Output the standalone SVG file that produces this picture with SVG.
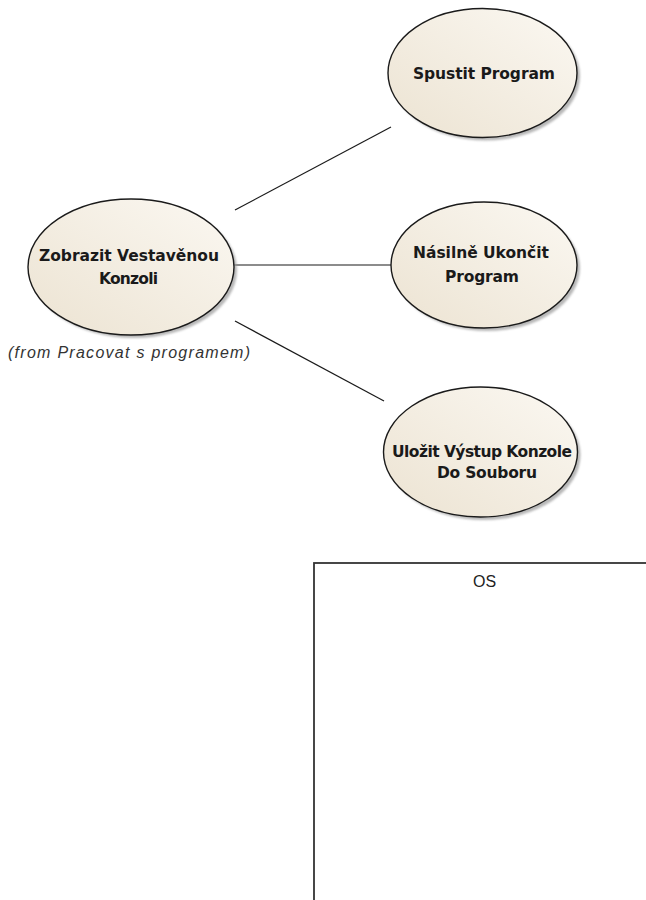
<svg xmlns="http://www.w3.org/2000/svg" width="646" height="900" viewBox="0 0 646 900">
  <defs>
    <linearGradient id="ucFill" x1="0" y1="1" x2="1" y2="0">
      <stop offset="0" stop-color="#ECE3D2"/>
      <stop offset="1" stop-color="#FBF8F2"/>
    </linearGradient>
    <filter id="blurShadow" x="-10%" y="-10%" width="130%" height="130%">
      <feGaussianBlur stdDeviation="1.2"/>
    </filter>
  </defs>
  <style>
    .shadow { fill: #9a9a9a; opacity: 0.7; filter: url(#blurShadow); }
    .uc { fill: url(#ucFill); stroke: #1a1a1a; stroke-width: 1.4; }
    .lbl { font-family: "DejaVu Sans", "Liberation Sans", sans-serif; font-weight: bold; font-size: 15.5px; fill: #1a1a1a; text-anchor: middle; }
    .note { font-family: "Liberation Sans", Arial, sans-serif; font-style: italic; font-size: 16px; fill: #333; }
    .conn line { stroke: #1a1a1a; stroke-width: 1.2; }
    .boundary { fill: #ffffff; stroke: #333; stroke-width: 1.8; }
    .title { font-family: "Liberation Sans", Arial, sans-serif; font-size: 16px; fill: #222; text-anchor: middle; }
  </style>
  <rect width="646" height="900" fill="#ffffff"/>

  <!-- system boundary -->
  <g id="os">
    <rect class="boundary" x="314" y="563" width="340" height="350"/>
    <text class="title" x="484.5" y="587">OS</text>
  </g>

  <!-- associations -->
  <g id="connectors" class="conn">
    <line x1="235" y1="210" x2="391" y2="127"/>
    <line x1="234" y1="265" x2="391" y2="265"/>
    <line x1="235" y1="321" x2="384" y2="401"/>
  </g>

  <g id="zobrazit">
    <ellipse class="shadow" cx="134" cy="270" rx="103" ry="68"/>
    <ellipse class="uc" cx="131" cy="267" rx="103" ry="68"/>
    <text class="lbl" x="129" y="261" textLength="180">Zobrazit Vestavěnou</text>
    <text class="lbl" x="128.5" y="284" textLength="59">Konzoli</text>
    <text class="note" x="8" y="358" textLength="242">(from Pracovat s programem)</text>
  </g>

  <g id="spustit">
    <ellipse class="shadow" cx="485.5" cy="76" rx="94.5" ry="64.5"/>
    <ellipse class="uc" cx="482.5" cy="73" rx="94.5" ry="64.5"/>
    <text class="lbl" x="484" y="79" textLength="142">Spustit Program</text>
  </g>

  <g id="nasilne">
    <ellipse class="shadow" cx="487" cy="268" rx="93" ry="63"/>
    <ellipse class="uc" cx="484" cy="265" rx="93" ry="63"/>
    <text class="lbl" x="481" y="258" textLength="136">Násilně Ukončit</text>
    <text class="lbl" x="482" y="282" textLength="74">Program</text>
  </g>

  <g id="ulozit">
    <ellipse class="shadow" cx="483.5" cy="455" rx="97" ry="65"/>
    <ellipse class="uc" cx="480.5" cy="452" rx="97" ry="65"/>
    <text class="lbl" x="482" y="457" textLength="180">Uložit Výstup Konzole</text>
    <text class="lbl" x="487" y="478" textLength="100">Do Souboru</text>
  </g>
</svg>
